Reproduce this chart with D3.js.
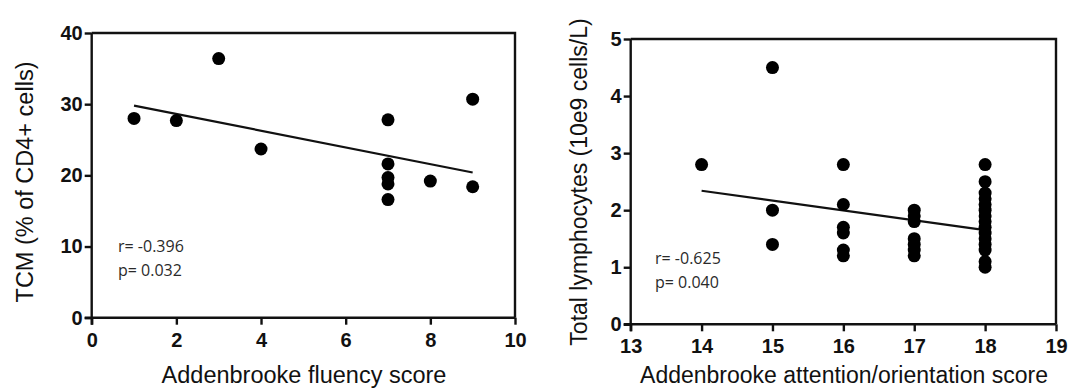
<!DOCTYPE html>
<html>
<head>
<meta charset="utf-8">
<script src="https://cdn.jsdelivr.net/npm/d3@7"></script>
<style>
  html, body { margin: 0; padding: 0; background: #fff; }
  svg { display: block; }
</style>
</head>
<body>
<svg id="chart" width="1070" height="389"></svg>
<script>
// ---------- Data ----------
// Left panel: Addenbrooke fluency score vs TCM (% of CD4+ cells)
const fluencyScore = [1, 2, 3, 4, 7, 7, 7, 7, 7, 8, 9, 9];
const tcmPercent   = [28.0, 27.7, 36.4, 23.7, 27.8, 21.6, 19.7, 18.8, 16.6, 19.2, 30.7, 18.4];
const leftFitX = [1, 9];
const leftFitY = [29.8, 20.4];
const leftXTicks = [0, 2, 4, 6, 8, 10];
const leftYTicks = [0, 10, 20, 30, 40];
const leftStats = ["r= -0.396", "p= 0.032"];

// Right panel: Addenbrooke attention/orientation score vs total lymphocytes
const attentionScore = [14,
  15, 15, 15,
  16, 16, 16, 16, 16, 16,
  17, 17, 17, 17, 17, 17, 17,
  18, 18, 18, 18, 18, 18, 18, 18, 18, 18, 18, 18, 18, 18, 18];
const lymphocytes = [2.8,
  4.5, 2.0, 1.4,
  2.8, 2.1, 1.7, 1.6, 1.3, 1.2,
  2.0, 1.9, 1.8, 1.5, 1.4, 1.3, 1.2,
  2.8, 2.5, 2.3, 2.2, 2.1, 2.0, 1.9, 1.8, 1.7, 1.6, 1.5, 1.4, 1.3, 1.1, 1.0];
const rightFitX = [14, 18];
const rightFitY = [2.34, 1.65];
const rightXTicks = [13, 14, 15, 16, 17, 18, 19];
const rightYTicks = [0, 1, 2, 3, 4, 5];
const rightStats = ["r= -0.625", "p= 0.040"];

// ---------- Drawing ----------
const svg = d3.select("#chart");
const TICK_FONT = "'Liberation Sans', Arial, sans-serif";
const STAT_FONT = "'Open Sans', 'Liberation Sans', sans-serif";

function panel(cfg) {
  const x = d3.scaleLinear().domain(cfg.xDomain).range([cfg.left, cfg.right]);
  const y = d3.scaleLinear().domain(cfg.yDomain).range([cfg.bottom, cfg.top]);
  const g = svg.append("g");

  // frame (top and right)
  g.append("path")
    .attr("d", `M${cfg.left},${cfg.top}H${cfg.right}V${cfg.bottom}`)
    .attr("fill", "none").attr("stroke", "#111").attr("stroke-width", 2.4);

  const xAxis = g.append("g")
    .attr("transform", `translate(0,${cfg.bottom})`)
    .call(d3.axisBottom(x).tickValues(cfg.xTicks).tickSize(7).tickPadding(8).tickFormat(d3.format("d")));
  const yAxis = g.append("g")
    .attr("transform", `translate(${cfg.left},0)`)
    .call(d3.axisLeft(y).tickValues(cfg.yTicks).tickSize(7).tickPadding(2).tickFormat(d3.format("d")));

  [xAxis, yAxis].forEach(a => {
    a.select(".domain").attr("stroke", "#111").attr("stroke-width", 2.4);
    a.selectAll(".tick line").attr("stroke", "#111").attr("stroke-width", 2.4);
    a.selectAll(".tick text")
      .attr("fill", "#111")
      .style("font-family", TICK_FONT)
      .style("font-weight", "bold")
      .style("font-size", "20px");
  });
  // extend axis lines to cross at origin
  xAxis.select(".domain").attr("d", `M${cfg.left - 7},0H${cfg.right}`);
  yAxis.select(".domain").attr("d", `M0,${cfg.top}V${cfg.bottom + 7}`);

  // regression line
  const line = d3.line().x(d => x(d[0])).y(d => y(d[1]));
  g.append("path")
    .datum(d3.zip(cfg.fitX, cfg.fitY))
    .attr("d", line)
    .attr("fill", "none").attr("stroke", "#111").attr("stroke-width", 2.2);

  // points
  g.append("g").selectAll("circle")
    .data(d3.zip(cfg.xs, cfg.ys))
    .join("circle")
    .attr("cx", d => x(d[0]))
    .attr("cy", d => y(d[1]))
    .attr("r", 6.5)
    .attr("fill", "#000");

  // stats
  g.selectAll("text.stat")
    .data(cfg.stats)
    .join("text")
    .attr("class", "stat")
    .attr("x", cfg.statX)
    .attr("y", (d, i) => cfg.statY + i * 23.5)
    .attr("fill", "#2a2a2a")
    .style("font-family", STAT_FONT)
    .style("font-size", "16px")
    .text(d => d);

  // axis titles
  g.append("text")
    .attr("x", cfg.xTitleX).attr("y", cfg.xTitleY)
    .attr("text-anchor", "middle")
    .attr("fill", "#111")
    .style("font-family", TICK_FONT).style("font-size", cfg.titleSize)
    .text(cfg.xTitle);
  g.append("text")
    .attr("transform", `translate(${cfg.yTitleX},${cfg.yTitleY}) rotate(-90)`)
    .attr("text-anchor", "middle")
    .attr("dy", "0.35em")
    .attr("fill", "#111")
    .style("font-family", TICK_FONT).style("font-size", cfg.titleSize)
    .text(cfg.yTitle);
}

panel({
  xDomain: [0, 10], yDomain: [0, 40],
  left: 91.7, right: 515, top: 33, bottom: 317.7,
  xTicks: leftXTicks, yTicks: leftYTicks,
  xs: fluencyScore, ys: tcmPercent,
  fitX: leftFitX, fitY: leftFitY,
  stats: leftStats, statX: 118, statY: 252,
  xTitle: "Addenbrooke fluency score", xTitleX: 304, xTitleY: 383,
  yTitle: "TCM (% of CD4+ cells)", yTitleX: 25, yTitleY: 182,
  titleSize: "23.5px"
});

panel({
  xDomain: [13, 19], yDomain: [0, 5],
  left: 630.7, right: 1056, top: 39, bottom: 324.3,
  xTicks: rightXTicks, yTicks: rightYTicks,
  xs: attentionScore, ys: lymphocytes,
  fitX: rightFitX, fitY: rightFitY,
  stats: rightStats, statX: 655, statY: 264,
  xTitle: "Addenbrooke attention/orientation score", xTitleX: 844, xTitleY: 383,
  yTitle: "Total lymphocytes (10e9 cells/L)", yTitleX: 579, yTitleY: 182,
  titleSize: "23px"
});
</script>
</body>
</html>
